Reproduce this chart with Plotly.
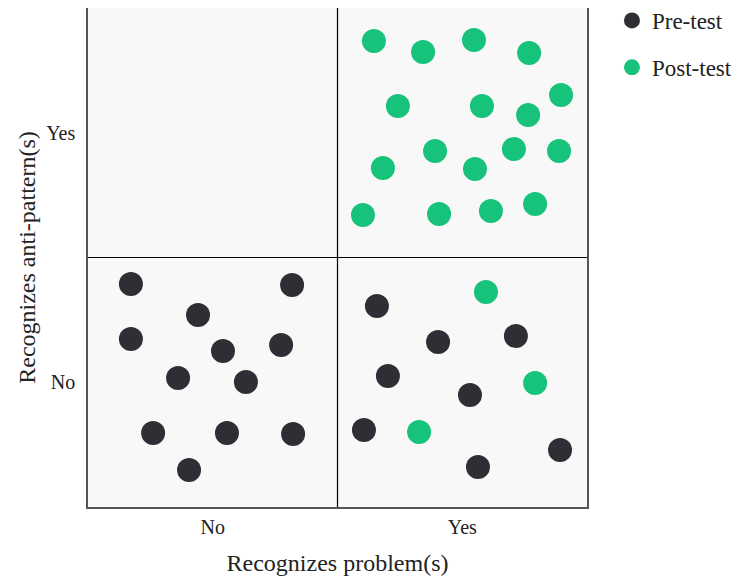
import plotly.graph_objects as go

# Data (axis units: 0-1 = "No", 1-2 = "Yes")
pre_x = [0.172, 0.818, 0.441, 0.172, 0.774, 0.541, 0.361, 0.633, 0.261, 0.557, 0.822, 0.405,
         1.158, 1.715, 1.403, 1.202, 1.531, 1.106, 1.892, 1.563]
pre_y = [0.894, 0.890, 0.770, 0.673, 0.649, 0.625, 0.517, 0.501, 0.297, 0.297, 0.293, 0.148,
         0.806, 0.685, 0.661, 0.525, 0.449, 0.309, 0.228, 0.160]
post_x = [1.146, 1.547, 1.343, 1.768, 1.896, 1.242, 1.579, 1.764, 1.391, 1.707, 1.888, 1.182,
          1.551, 1.102, 1.407, 1.615, 1.792, 1.595, 1.792, 1.327]
post_y = [1.868, 1.872, 1.824, 1.820, 1.651, 1.607, 1.607, 1.571, 1.427, 1.435, 1.427, 1.359,
          1.355, 1.170, 1.174, 1.186, 1.214, 0.862, 0.497, 0.301]
tick_vals = [0.5, 1.5]
tick_text = ["No", "Yes"]

FONT = "Liberation Serif"
DARK = "#2e2e34"
GREEN = "#17c27b"

fig = go.Figure()
fig.add_trace(go.Scatter(x=pre_x, y=pre_y, mode="markers", name="Pre-test",
                         marker=dict(size=24, color=DARK), legendgroup="a"))
fig.add_trace(go.Scatter(x=post_x, y=post_y, mode="markers", name="Post-test",
                         marker=dict(size=24, color=GREEN), legendgroup="b"))

# quadrant dividers
fig.add_shape(type="line", x0=1, x1=1, y0=0, y1=2, xref="x", yref="y",
              line=dict(color="black", width=1.2), layer="below")
fig.add_shape(type="line", x0=0, x1=2, y0=1, y1=1, xref="x", yref="y",
              line=dict(color="black", width=1.2), layer="below")

fig.update_xaxes(range=[0, 2], tickvals=tick_vals, ticktext=tick_text, showgrid=False,
                 zeroline=False, showline=True, mirror=True, linecolor="#555555", linewidth=1.5,
                 ticks="", ticklabelstandoff=1, title=dict(text="Recognizes problem(s)", standoff=18),
                 tickfont=dict(size=20), automargin=False, fixedrange=True)
fig.update_yaxes(range=[0, 2], tickvals=tick_vals, ticktext=tick_text, showgrid=False,
                 zeroline=False, showline=True, mirror=True, linecolor="#555555", linewidth=1.5,
                 ticks="", ticklabelstandoff=7, title=dict(text="Recognizes anti-pattern(s)", standoff=4),
                 tickfont=dict(size=20), automargin=False, fixedrange=True)

fig.update_layout(
    width=731, height=568,
    margin=dict(l=80, r=152, t=0, b=69, autoexpand=False),
    plot_bgcolor="#f8f8f8", paper_bgcolor="white",
    font=dict(family=FONT, size=20, color="#222222"),
    legend=dict(x=1.05, y=1.018, xanchor="left", yanchor="top", tracegroupgap=14,
                font=dict(size=23), bgcolor="rgba(0,0,0,0)"),
)

fig.write_html("out.html")
